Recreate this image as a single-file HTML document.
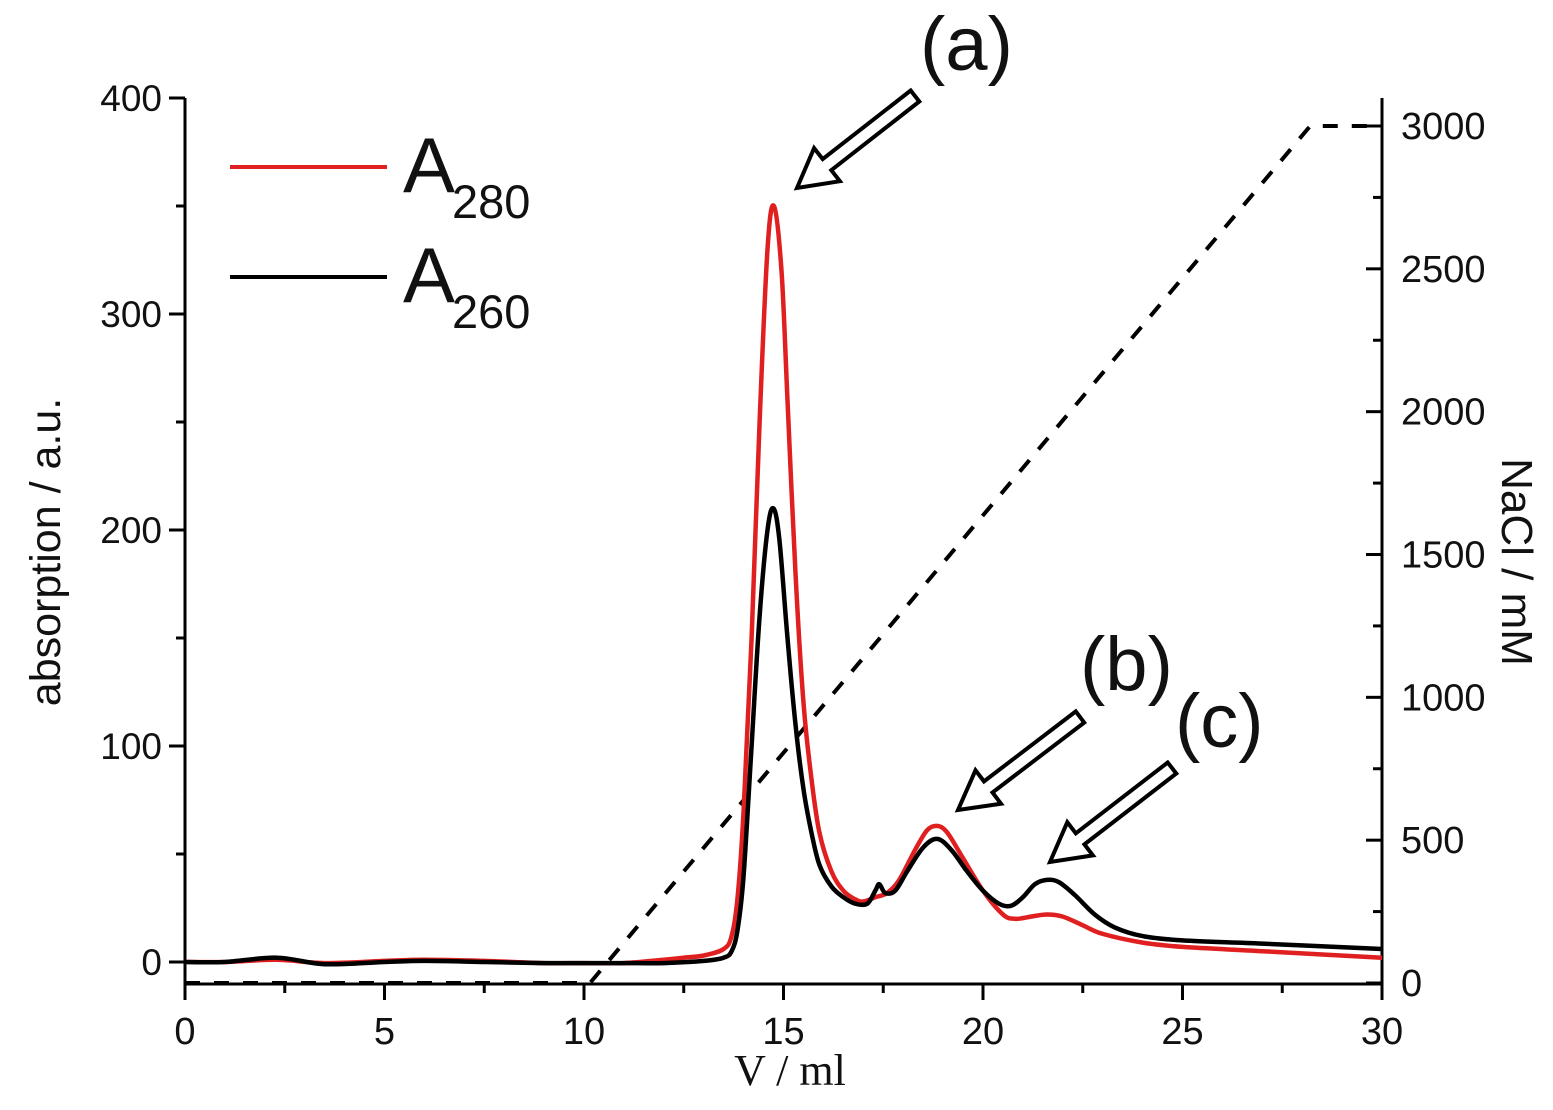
<!DOCTYPE html>
<html><head><meta charset="utf-8"><style>
html,body{margin:0;padding:0;background:#fff;}
svg{display:block;font-family:"Liberation Sans",sans-serif;}
</style></head><body>
<svg id="chart" width="1553" height="1110" viewBox="0 0 1553 1110" xmlns="http://www.w3.org/2000/svg"></svg>
<script>
const vols280 = [0,1,2.3,3.5,5,6,7.5,9,10,11,12,12.5,13,13.5,13.7,13.85,14.0,14.2,14.4,14.6,14.76,14.95,15.1,15.3,15.5,15.7,15.9,16.2,16.5,16.8,17.0,17.3,17.6,17.9,18.3,18.6,18.85,19.1,19.5,20.0,20.5,20.8,21.2,21.6,22.0,22.5,23,24,25,27,30];
const a280 = [0,0,1,-0.5,0.5,1,0.5,-0.5,-0.5,-0.5,1,2,3,6,12,30,70,150,250,330,350,320,260,180,120,85,60,42,33,29,28,30,32,38,52,61,63,60,48,33,22,20,21,22,21,17,13,9,7,5,2];
const vols260 = [0,1,2.3,3.5,5,6,7.5,9,10,11,12,13,13.5,13.7,13.85,14.0,14.2,14.4,14.6,14.75,14.9,15.1,15.3,15.5,15.7,15.9,16.2,16.5,16.8,17.1,17.3,17.4,17.55,17.8,18.1,18.5,18.85,19.2,19.6,20.0,20.4,20.7,21.0,21.3,21.6,21.9,22.3,22.8,23.3,24,25,27,30];
const a260 = [0,0,2,-1,0,0.5,0,-0.5,-0.5,-0.5,-0.5,0.5,2,5,15,40,100,160,200,210,195,150,110,80,60,45,35,30,27,27,33,36,32,33,42,53,57,52,42,33,27,26,30,36,38,37,31,22,16,12,10,8.5,6];
const naclVol = [0,10.15,28.2,30];
const naclConc = [0,0,3000,3000];
const xTicks = [0,5,10,15,20,25,30];
const yTicks = [0,100,200,300,400];
const y2Ticks = [0,500,1000,1500,2000,2500,3000];

const NS="http://www.w3.org/2000/svg";
const svg=document.getElementById('chart');
const X0=185,X1=1382;
const xs=v=>X0+(v/30)*(X1-X0);
const ys=a=>962-a*2.16;
const y2s=c=>983-c*(983-126)/3000;
const AXB=984, AXT=98;
function el(tag,attrs,parent){const e=document.createElementNS(NS,tag);for(const k in attrs)e.setAttribute(k,attrs[k]);(parent||svg).appendChild(e);return e;}
function txt(s,attrs){const e=el('text',attrs);e.textContent=s;return e;}

let ax=el('line',{x1:X0,y1:AXT,x2:X0,y2:AXB,stroke:'#000','stroke-width':3});


ax=el('line',{x1:X1,y1:AXT,x2:X1,y2:AXB,stroke:'#000','stroke-width':3});


ax=el('line',{x1:X0-1,y1:AXB,x2:X1+1,y2:AXB,stroke:'#000','stroke-width':3});



for(let v=0;v<=30;v+=2.5){const maj=v%5===0;el('line',{x1:xs(v),x2:xs(v),y1:AXB,y2:AXB+(maj?16:9),stroke:'#000','stroke-width':3});}
xTicks.forEach(v=>{const t=txt(String(v),{x:xs(v),y:1044,'font-size':38,'text-anchor':'middle',fill:'#111'});

});
for(let a=0;a<=400;a+=50){const maj=a%100===0;el('line',{x1:X0,x2:X0-(maj?16:9),y1:ys(a),y2:ys(a),stroke:'#000','stroke-width':3});}
yTicks.forEach(a=>{const t=txt(String(a),{x:162,y:ys(a)+13,'font-size':37,'text-anchor':'end',fill:'#111'});

});
for(let c=0;c<=3000;c+=250){const maj=c%500===0;el('line',{x1:X1,x2:X1-(maj?16:9),y1:y2s(c),y2:y2s(c),stroke:'#000','stroke-width':3});}
y2Ticks.forEach(c=>{const t=txt(String(c),{x:1401,y:y2s(c)+13,'font-size':38,'text-anchor':'start',fill:'#111'});

});

let t=txt('V / ml',{x:790,y:1085,'font-size':44,'text-anchor':'middle','font-family':'"Liberation Serif",serif',fill:'#111'});


t=txt('absorption / a.u.',{x:0,y:0,'font-size':43,'text-anchor':'middle',fill:'#111',transform:'translate(60,552) rotate(-90)'});


t=txt('NaCl / mM',{x:0,y:0,'font-size':44,'text-anchor':'middle',fill:'#111',transform:'translate(1502,562) rotate(90)'});



function path(vx,vy,sx,sy){return vx.map((v,i)=>(i?'L':'M')+sx(v).toFixed(1)+','+sy(vy[i]).toFixed(1)).join(' ');}
function smooth(vx,vy,sx,sy){
  const P=vx.map((v,i)=>[sx(v),sy(vy[i])]);
  let d='M'+P[0][0].toFixed(1)+','+P[0][1].toFixed(1);
  for(let i=0;i<P.length-1;i++){
    const p0=P[Math.max(0,i-1)],p1=P[i],p2=P[i+1],p3=P[Math.min(P.length-1,i+2)];
    const c1=[p1[0]+(p2[0]-p0[0])/6,p1[1]+(p2[1]-p0[1])/6];
    const c2=[p2[0]-(p3[0]-p1[0])/6,p2[1]-(p3[1]-p1[1])/6];
    d+=' C'+c1[0].toFixed(1)+','+c1[1].toFixed(1)+' '+c2[0].toFixed(1)+','+c2[1].toFixed(1)+' '+p2[0].toFixed(1)+','+p2[1].toFixed(1);
  }
  return d;
}
let p=el('path',{d:path(naclVol,naclConc,xs,y2s),fill:'none',stroke:'#000','stroke-width':4,'stroke-dasharray':'15 14'});


p=el('path',{d:smooth(vols280,a280,xs,ys),fill:'none',stroke:'#e02020','stroke-width':4.5,'stroke-linejoin':'round'});


p=el('path',{d:smooth(vols260,a260,xs,ys),fill:'none',stroke:'#000','stroke-width':4.5,'stroke-linejoin':'round'});



let l=el('line',{x1:230,x2:387,y1:167,y2:167,stroke:'#e02020','stroke-width':4});


l=el('line',{x1:230,x2:387,y1:277,y2:277,stroke:'#000','stroke-width':4});


t=txt('A',{x:403,y:192,'font-size':78,fill:'#111'});


txt('280',{x:452,y:218,'font-size':47,fill:'#111'});
t=txt('A',{x:403,y:302,'font-size':78,fill:'#111'});


txt('260',{x:452,y:328,'font-size':47,fill:'#111'});

function arrow(tx,ty,px,py,name){
  const dx=px-tx,dy=py-ty,L=Math.hypot(dx,dy),ux=dx/L,uy=dy/L,nx=-uy,ny=ux;
  const sw=7,hw=21,hl=38;
  const bx=px-ux*hl,by=py-uy*hl;
  const pts=[[tx+nx*sw,ty+ny*sw],[bx+nx*sw,by+ny*sw],[bx+nx*hw,by+ny*hw],[px,py],[bx-nx*hw,by-ny*hw],[bx-nx*sw,by-ny*sw],[tx-nx*sw,ty-ny*sw]];
  const a=el('polygon',{points:pts.map(q=>q[0].toFixed(1)+','+q[1].toFixed(1)).join(' '),fill:'#fff',stroke:'#000','stroke-width':4,'stroke-linejoin':'miter'});
  
  
}
arrow(915,96,797,188,'arrow-a');
arrow(1080,717,958,810,'arrow-b');
arrow(1172,768,1050,862,'arrow-c');
t=txt('(a)',{x:920,y:70,'font-size':76,fill:'#111'});


t=txt('(b)',{x:1080,y:690,'font-size':76,fill:'#111'});


t=txt('(c)',{x:1175,y:747,'font-size':76,fill:'#111'});


</script>
</body></html>
